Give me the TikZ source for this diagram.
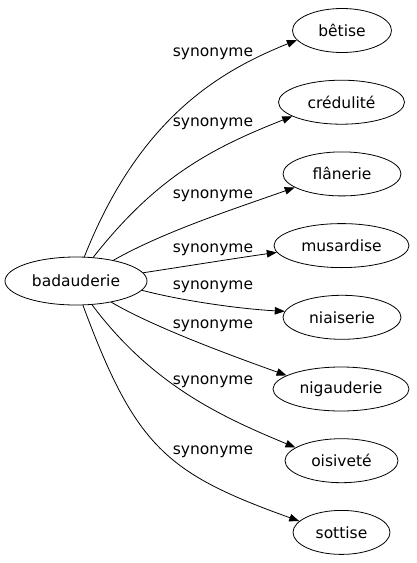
\documentclass[tikz,border=0pt]{standalone}
\usepackage{fontspec}
\setmainfont{DejaVu Sans}
\usetikzlibrary{shapes.geometric,arrows.meta}
\begin{document}
\begin{tikzpicture}[x=1pt,y=-1pt,
  word/.style={ellipse,draw,line width=0.8pt,inner sep=0pt,minimum height=44pt,font=\fontsize{15.5}{18}\selectfont},
  rel/.style={anchor=base,inner sep=0pt,font=\fontsize{15.5}{18}\selectfont},
  edge/.style={line width=0.8pt,-{Triangle[length=10pt,width=7.5pt]}}]
\useasboundingbox (0,0) rectangle (416,563);
\node[word,minimum width=142pt,minimum height=48pt] (bad) at (76,281) {badauderie};
\node[word,minimum width=99pt]  (n1) at (342,30.5)  {bêtise};
\node[word,minimum width=126pt] (n2) at (341.5,102.2) {crédulité};
\node[word,minimum width=118pt] (n3) at (342,173.9) {flânerie};
\node[word,minimum width=135pt] (n4) at (341.5,245.6) {musardise};
\node[word,minimum width=118pt] (n5) at (342,317.3) {niaiserie};
\node[word,minimum width=136pt] (n6) at (341,389) {nigauderie};
\node[word,minimum width=113pt] (n7) at (341.5,460.7) {oisiveté};
\node[word,minimum width=97pt]  (n8) at (341.5,532.4) {sottise};
\node[rel] (l1) at (213,56) {synonyme};
\node[rel] (l2) at (213,126) {synonyme};
\node[rel] (l3) at (213,198) {synonyme};
\node[rel] (l4) at (213,252) {synonyme};
\node[rel] (l5) at (213,289) {synonyme};
\node[rel] (l6) at (213,328) {synonyme};
\node[rel] (l7) at (213,384) {synonyme};
\node[rel] (l8) at (213,454) {synonyme};
\draw[edge] (bad.71.6) .. controls (139.5,117.5) and (220,71) .. (n1.192.3);
\draw[edge] (bad.54.7) .. controls (155,179) and (208,149.4) .. (n2.196.6);
\draw[edge] (bad.29.6) .. controls (165,231) and (237,208) .. (n3.196);
\draw[edge] (bad.7.7) .. controls (183,266.7) and (237,258) .. (n4.186.5);
\draw[edge] (bad.-8.6) .. controls (181,300.6) and (240,309) .. (n5.174.7);
\draw[edge] (bad.-31.4) .. controls (155,328) and (238,358) .. (n6.166);
\draw[edge] (bad.-56.3) .. controls (152,385) and (221.4,416.8) .. (n7.164.7);
\draw[edge] (bad.-74.4) .. controls (135.5,447) and (166.4,473.4) .. (n8.165.3);
\end{tikzpicture}
\end{document}
